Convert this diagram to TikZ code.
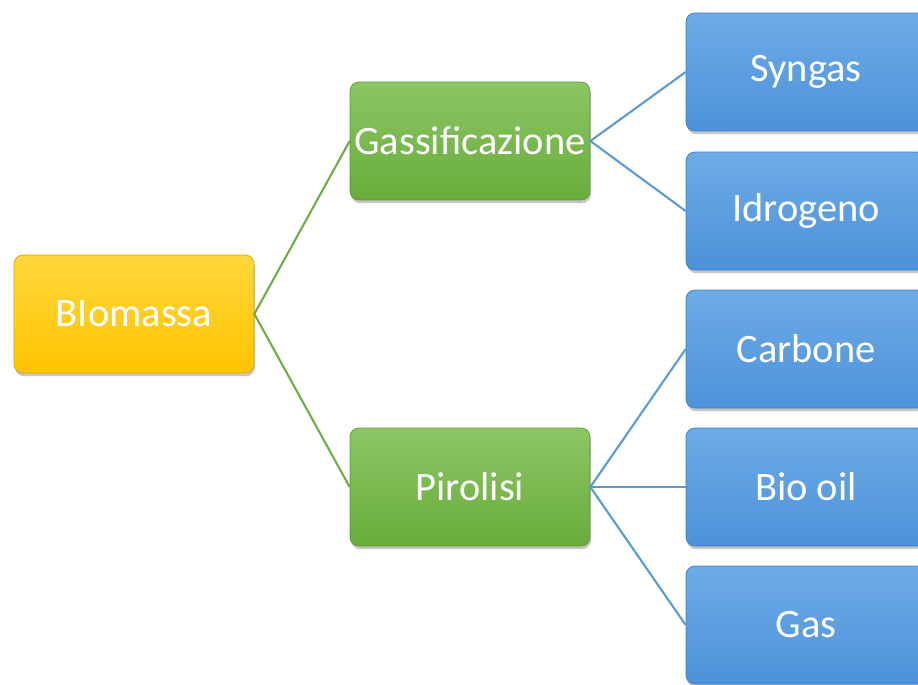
\documentclass[tikz,border=0pt]{standalone}
\usepackage{fontspec}
\setmainfont{Carlito}
\usetikzlibrary{shadows}

\begin{document}
\begin{tikzpicture}[x=0.02cm, y=-0.02cm,
	box/.style = {rounded corners=5pt, minimum width=4.8cm, minimum height=2.36cm,
		text=white, font=\fontsize{23}{26}\selectfont, inner sep=0pt,
		drop shadow={opacity=0.45, shadow xshift=0.6pt, shadow yshift=-1.8pt}},
	yellowbox/.style = {box, draw=boxyellowedge, top color=boxyellowtop, bottom color=boxyellowbot},
	greenbox/.style = {box, draw=boxgreenedge, top color=boxgreentop, bottom color=boxgreenbot},
	bluebox/.style = {box, draw=boxblueedge, top color=boxbluetop, bottom color=boxbluebot},
	greenline/.style = {draw=linegreen, line width=1.2pt},
	blueline/.style = {draw=lineblue, line width=1.2pt}]
	\definecolor{boxyellowtop}{HTML}{FFD73C}
	\definecolor{boxyellowbot}{HTML}{FFC400}
	\definecolor{boxyellowedge}{HTML}{D9A800}
	\definecolor{boxgreentop}{HTML}{8CC665}
	\definecolor{boxgreenbot}{HTML}{68AC3B}
	\definecolor{boxgreenedge}{HTML}{5A9A30}
	\definecolor{boxbluetop}{HTML}{6EABE6}
	\definecolor{boxbluebot}{HTML}{4C92DA}
	\definecolor{boxblueedge}{HTML}{3F7EC2}
	\definecolor{linegreen}{HTML}{70AD47}
	\definecolor{lineblue}{HTML}{5B9BD5}
	\useasboundingbox (0,0) rectangle (918,684);
	% root and the two processes
	\node [yellowbox] (biomassa) at (134,314) {BIomassa};
	\node [greenbox] (gassif) at (470,141) {Gassificazione};
	\node [greenbox] (pirolisi) at (470,487) {Pirolisi};
	% products
	\node [bluebox] (syngas) at (806,72) {Syngas};
	\node [bluebox] (idrogeno) at (806,211) {Idrogeno};
	\node [bluebox] (carbone) at (806,349) {Carbone};
	\node [bluebox] (biooil) at (806,487) {Bio oil};
	\node [bluebox] (gas) at (806,625) {Gas};
	% connectors
	\draw [greenline] (gassif.west) -- (biomassa.east) -- (pirolisi.west);
	\draw [blueline] (syngas.west) -- (gassif.east) -- (idrogeno.west);
	\draw [blueline] (carbone.west) -- (pirolisi.east) -- (gas.west);
	\draw [blueline] (pirolisi.east) -- (biooil.west);
\end{tikzpicture}
\end{document}
